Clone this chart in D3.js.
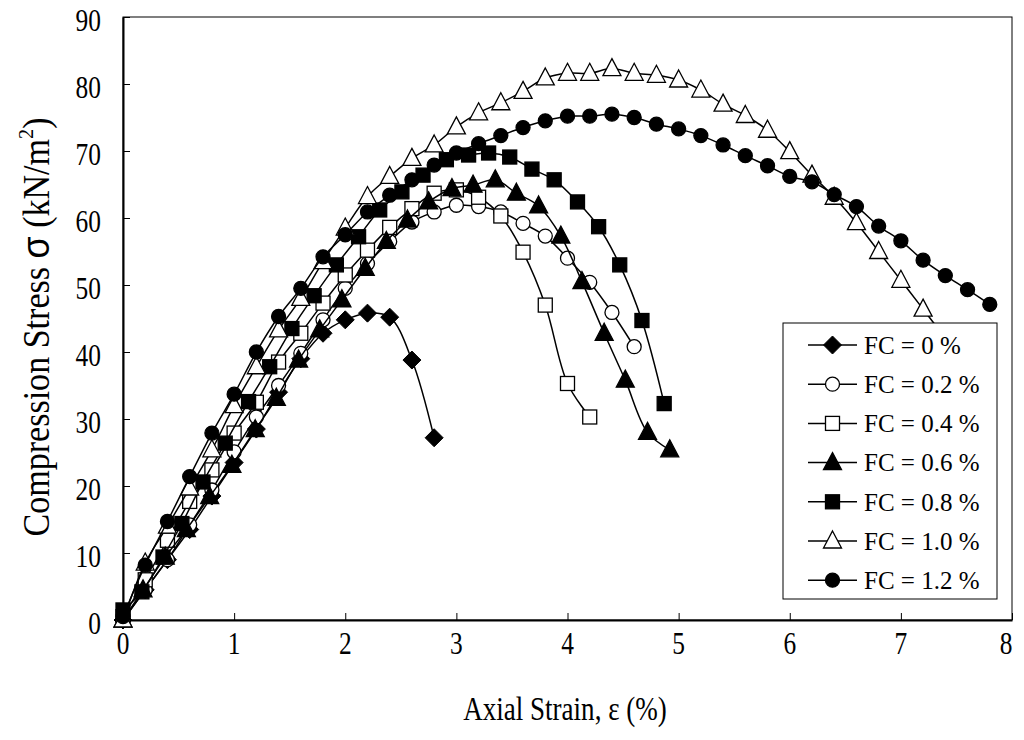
<!DOCTYPE html>
<html><head><meta charset="utf-8">
<script src="https://d3js.org/d3.v7.min.js"></script>
<style>body{margin:0;background:#fff}</style>
</head><body>
<svg id="c" width="1024" height="740"></svg>
<script>
const seriesNames = ["FC = 0 %","FC = 0.2 %","FC = 0.4 %","FC = 0.6 %","FC = 0.8 %","FC = 1.0 %","FC = 1.2 %"];
const markerTypes = ["diamond","circleOpen","squareOpen","triangleFilled","squareFilled","triangleOpen","circleFilled"];
const xTicks = [0,1,2,3,4,5,6,7,8];
const yTicks = [0,10,20,30,40,50,60,70,80,90];

const fc0x = [0,0.2,0.4,0.6,0.8,1.0,1.2,1.4,1.6,1.8,2.0,2.2,2.4,2.6,2.8];
const fc0y = [0,4.5,9,13.5,18.5,23.5,28.5,34,39,42.8,44.8,45.8,45.2,38.8,27.2];

const fc02x = [0,0.2,0.4,0.6,0.8,1.0,1.2,1.4,1.6,1.8,2.0,2.2,2.4,2.6,2.8,3.0,3.2,3.4,3.6,3.8,4.0,4.2,4.4,4.6];
const fc02y = [0,4.5,9,14.2,19.4,25.1,30.3,35,39.8,44.8,49.5,53.2,56.5,59.4,60.9,61.9,61.7,60.9,59.2,57.3,54.0,50.4,45.9,40.8];

const fc04x = [0,0.2,0.4,0.6,0.8,1.0,1.2,1.4,1.6,1.8,2.0,2.2,2.4,2.6,2.8,3.0,3.2,3.4,3.6,3.8,4.0,4.2];
const fc04y = [0.5,6,11.9,17.7,22.4,27.9,32.5,38.5,42.8,47.3,51.5,55.2,58.6,61.4,63.7,64.2,63.1,60.3,54.9,47.0,35.3,30.3];

const fc06x = [0,0.18,0.38,0.57,0.78,0.98,1.19,1.38,1.58,1.77,1.97,2.18,2.37,2.56,2.75,2.96,3.15,3.35,3.54,3.74,3.94,4.13,4.33,4.52,4.72,4.92];
const fc06y = [0,4.5,9.4,13.5,18.4,23.1,28.4,33.1,38.8,43.3,47.8,52.5,56.5,59.7,62.4,64.4,64.9,65.7,63.7,61.8,57.3,50.5,42.8,35.8,28.0,25.4];

const fc08x = [0,0.17,0.36,0.53,0.72,0.92,1.13,1.32,1.52,1.72,1.92,2.12,2.31,2.51,2.7,2.91,3.11,3.29,3.48,3.68,3.88,4.09,4.28,4.47,4.67,4.87];
const fc08y = [1.5,4.2,9.4,14.4,20.6,26.4,32.6,37.8,43.5,48.4,53,57.2,61.2,63.9,66.4,68.7,69.4,69.7,69.1,67.3,65.7,62.4,58.7,53.0,44.7,32.3];

const fc10x = [0,0.2,0.4,0.6,0.8,1.0,1.2,1.4,1.6,1.8,2.0,2.2,2.4,2.6,2.8,3.0,3.2,3.4,3.6,3.8,4.0,4.2,4.4,4.6,4.8,5.0,5.2,5.4,5.6,5.8,6.0,6.2,6.4,6.6,6.8,7.0,7.2,7.4,7.6];
const fc10y = [0,8.5,14,19.7,25.4,32,37.8,43.3,48.0,53.5,58.5,63.2,66.2,68.9,70.9,73.6,75.7,77.2,78.9,80.9,81.6,81.6,82.3,81.6,81.3,80.6,79.1,77.0,75.3,73.1,69.9,66.4,63.1,59.3,55.0,50.7,46.4,42,37];

const fc12x = [0,0.2,0.4,0.6,0.8,1.0,1.2,1.4,1.6,1.8,2.0,2.2,2.4,2.6,2.8,3.0,3.2,3.4,3.6,3.8,4.0,4.2,4.4,4.6,4.8,5.0,5.2,5.4,5.6,5.8,6.0,6.2,6.4,6.6,6.8,7.0,7.2,7.4,7.6,7.8];
const fc12y = [0.5,8.2,14.7,21.4,27.9,33.7,40.0,45.3,49.5,54.2,57.5,60.9,63.4,65.7,67.9,69.7,71.1,72.3,73.5,74.5,75.2,75.2,75.5,75.0,74.0,73.3,72.3,70.9,69.3,67.8,66.2,65.4,63.5,61.7,58.8,56.6,53.7,51.4,49.3,47.1];

const seriesX = [fc0x,fc02x,fc04x,fc06x,fc08x,fc10x,fc12x];
const seriesY = [fc0y,fc02y,fc04y,fc06y,fc08y,fc10y,fc12y];

const svg = d3.select("#c");
const L=123, R=1012, T=17, B=620;
const x = d3.scaleLinear().domain([0,8]).range([L,R]);
const y = d3.scaleLinear().domain([0,90]).range([B,T]);
const serif = "'Liberation Serif','Times New Roman',serif";
const SX = 0.82; // horizontal condensation of axis text

// frame
svg.append("rect").attr("x",L).attr("y",T).attr("width",R-L).attr("height",B-T)
  .attr("fill","none").attr("stroke","#000").attr("stroke-width",1);

// axes (tick marks only; labels drawn separately)
const yAxis = d3.axisLeft(y).tickValues(yTicks).tickSizeInner(-7).tickSizeOuter(0).tickFormat("");
const gy = svg.append("g").attr("transform",`translate(${L},0)`).call(yAxis);
const xAxis = d3.axisBottom(x).tickValues(xTicks).tickSizeInner(-7).tickSizeOuter(0).tickFormat("");
const gx = svg.append("g").attr("transform",`translate(0,${B})`).call(xAxis);
[gx,gy].forEach(g=>{
  g.select(".domain").attr("stroke","#000").attr("stroke-width",2);
  g.selectAll(".tick line").attr("stroke","#000").attr("stroke-width",1);
});

// tick labels
svg.append("g").selectAll("text").data(yTicks).join("text")
  .attr("transform",d=>`translate(101,${y(d)+3}) scale(${SX},1)`)
  .attr("dy","0.35em").attr("text-anchor","end")
  .attr("font-family",serif).attr("font-size",31).text(d=>d);
svg.append("g").selectAll("text").data(xTicks).join("text")
  .attr("transform",d=>`translate(${Math.min(x(d),1006)},${B+23}) scale(${SX},1)`)
  .attr("dy","0.35em").attr("text-anchor","middle")
  .attr("font-family",serif).attr("font-size",31).text(d=>d);

// axis titles
svg.append("text").attr("transform",`translate(565,708) scale(${SX},1)`).attr("dy","0.35em").attr("text-anchor","middle")
  .attr("font-family",serif).attr("font-size",33).text("Axial Strain, ε (%)");
const yt = svg.append("text").attr("transform",`translate(49,327) rotate(-90) scale(0.92,1)`)
  .attr("text-anchor","middle").attr("font-family",serif).attr("font-size",37);
yt.append("tspan").text("Compression Stress ");
yt.append("tspan").attr("font-family","'Liberation Sans',Arial,sans-serif").attr("font-size",39).text("σ");
yt.append("tspan").text(" (kN/m");
yt.append("tspan").attr("font-size",22).attr("dy",-16).text("2");
yt.append("tspan").attr("dy",16).text(")");

function drawMarker(g, type, cx, cy){
  const fill = type.endsWith("Filled")||type==="diamond" ? "#000" : "#fff";
  if(type.startsWith("circle")){
    g.append("circle").attr("cx",cx).attr("cy",cy).attr("r",7).attr("fill",fill).attr("stroke","#000").attr("stroke-width",1.3);
  } else if(type.startsWith("square")){
    g.append("rect").attr("x",cx-7).attr("y",cy-7).attr("width",14).attr("height",14).attr("fill",fill).attr("stroke","#000").attr("stroke-width",1.3);
  } else if(type.startsWith("triangle")){
    g.append("path").attr("d",`M${cx},${cy-10}L${cx+9},${cy+7}L${cx-9},${cy+7}Z`).attr("fill",fill).attr("stroke","#000").attr("stroke-width",1.3);
  } else {
    g.append("path").attr("d",`M${cx},${cy-9}L${cx+9},${cy}L${cx},${cy+9}L${cx-9},${cy}Z`).attr("fill",fill).attr("stroke","#000").attr("stroke-width",1);
  }
}

const line = d3.line().curve(d3.curveCatmullRom.alpha(0.5)).x(d=>x(d[0])).y(d=>y(d[1]));
seriesX.forEach((xs,i)=>{
  const pts = xs.map((v,j)=>[v,seriesY[i][j]]);
  const g = svg.append("g");
  g.append("path").attr("d",line(pts)).attr("fill","none").attr("stroke","#000").attr("stroke-width",1.5);
  pts.forEach(p=>drawMarker(g, markerTypes[i], x(p[0]), y(p[1])));
});

// legend
const lg = svg.append("g");
lg.append("rect").attr("x",783).attr("y",323).attr("width",214).attr("height",276)
  .attr("fill","#fff").attr("stroke","#000").attr("stroke-width",1);
seriesNames.forEach((n,i)=>{
  const ly = 345 + i*39.2;
  lg.append("line").attr("x1",808).attr("x2",857).attr("y1",ly).attr("y2",ly).attr("stroke","#000").attr("stroke-width",1.5);
  drawMarker(lg, markerTypes[i], 832.5, ly);
  lg.append("text").attr("x",864).attr("y",ly).attr("dy","0.35em").attr("font-family",serif).attr("font-size",25).text(n);
});
</script>
</body></html>
